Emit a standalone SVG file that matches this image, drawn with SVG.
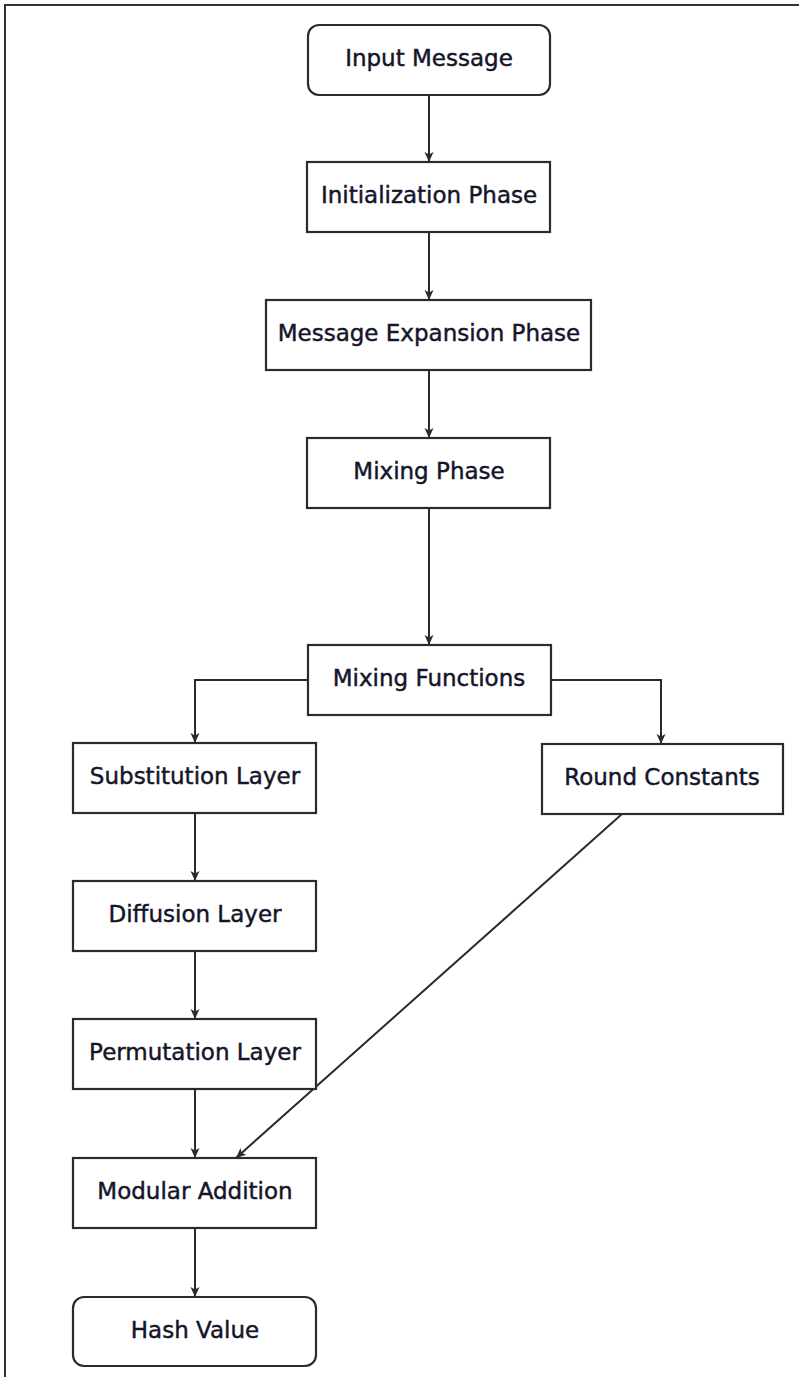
<svg xmlns="http://www.w3.org/2000/svg" width="799" height="1377" viewBox="0 0 799 1377">
<style>
.box{fill:#fff;stroke:#2b2b2b;stroke-width:2.2}
.lbl{font-family:"DejaVu Sans",sans-serif;font-size:23px;fill:#15152a;stroke:#15152a;stroke-width:0.45;text-anchor:middle}
.edge{fill:none;stroke:#2b2b2b;stroke-width:2}
</style>
<defs>
<marker id="arr" viewBox="0 0 10 10" refX="10" refY="5" markerWidth="10" markerHeight="10" markerUnits="userSpaceOnUse" orient="auto">
<path d="M0,0.5 L10,5 L0,9.5 L2.5,5 Z" fill="#2b2b2b"/>
</marker>
</defs>
<rect width="799" height="1377" fill="#fff"/>
<path d="M5,1377 V5 H799" fill="none" stroke="#333" stroke-width="2"/>
<g id="connectors">
<path class="edge" d="M429,95 V162" marker-end="url(#arr)"/>
<path class="edge" d="M429,232 V300" marker-end="url(#arr)"/>
<path class="edge" d="M429,370 V438" marker-end="url(#arr)"/>
<path class="edge" d="M429,508 V645" marker-end="url(#arr)"/>
<path class="edge" d="M308,680 H195 V743" marker-end="url(#arr)"/>
<path class="edge" d="M551,680 H661 V744" marker-end="url(#arr)"/>
<path class="edge" d="M195,813 V881" marker-end="url(#arr)"/>
<path class="edge" d="M195,951 V1019" marker-end="url(#arr)"/>
<path class="edge" d="M195,1089 V1158" marker-end="url(#arr)"/>
<path class="edge" d="M622,814 L236,1158" marker-end="url(#arr)"/>
<path class="edge" d="M195,1228 V1297" marker-end="url(#arr)"/>
</g>
<g id="input"><rect class="box" x="308" y="25" width="242" height="70" rx="11"/><text class="lbl" x="429" y="66">Input Message</text></g>
<g id="init"><rect class="box" x="307" y="162" width="243" height="70"/><text class="lbl" x="429" y="203">Initialization Phase</text></g>
<g id="expansion"><rect class="box" x="266" y="300" width="325" height="70"/><text class="lbl" x="429" y="341">Message Expansion Phase</text></g>
<g id="mixing"><rect class="box" x="307" y="438" width="243" height="70"/><text class="lbl" x="429" y="479">Mixing Phase</text></g>
<g id="mixfunc"><rect class="box" x="308" y="645" width="243" height="70"/><text class="lbl" x="429" y="686">Mixing Functions</text></g>
<g id="subst"><rect class="box" x="73" y="743" width="243" height="70"/><text class="lbl" x="195" y="784">Substitution Layer</text></g>
<g id="round"><rect class="box" x="542" y="744" width="241" height="70"/><text class="lbl" x="662" y="785">Round Constants</text></g>
<g id="diffusion"><rect class="box" x="73" y="881" width="243" height="70"/><text class="lbl" x="195" y="922">Diffusion Layer</text></g>
<g id="perm"><rect class="box" x="73" y="1019" width="243" height="70"/><text class="lbl" x="195" y="1060">Permutation Layer</text></g>
<g id="modadd"><rect class="box" x="73" y="1158" width="243" height="70"/><text class="lbl" x="195" y="1199">Modular Addition</text></g>
<g id="hash"><rect class="box" x="73" y="1297" width="243" height="69" rx="11"/><text class="lbl" x="195" y="1338">Hash Value</text></g>
</svg>
